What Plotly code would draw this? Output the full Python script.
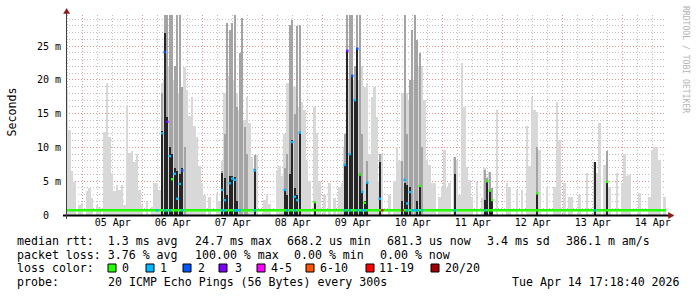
import plotly.graph_objects as go
import pandas as pd

START = pd.Timestamp("2026-04-04 17:18:40")
END = pd.Timestamp("2026-04-14 17:18:40")
STEP_MS = 3600 * 1000

# ---- data (hour offsets from START, values in ms) ----
light_hour = [0, 1, 2, 3, 5, 6, 8, 9, 10, 12, 13, 15, 16, 17, 18, 19, 20, 21, 22, 23, 24, 25, 26, 27, 28, 29, 30, 32, 34, 35, 36, 37,
              38, 39, 40, 41, 42, 43, 44, 45, 46, 47, 48, 49, 50, 51, 52, 53, 54, 55, 57, 60, 61,
              62, 63, 64, 65, 66, 67, 68, 69, 70, 71, 72, 73, 74, 75, 76, 79, 80, 81, 84, 85, 86,
              87, 88, 89, 90, 91, 92, 93, 94, 95, 96, 97, 99, 100, 101, 103, 105, 107, 109, 110,
              111, 112, 113, 114, 115, 116, 117, 118, 119, 120, 121, 122, 123, 124, 125, 126, 129, 131, 132, 133,
              134, 135, 136, 137, 138, 139, 140, 141, 142, 143, 144, 145, 146, 147, 149, 150, 151, 152, 153, 155, 156, 157, 158, 159, 160, 161,
              162, 164, 166, 167, 168, 169, 170, 172, 176, 177, 180, 182, 184, 185, 186, 187, 188, 189, 192, 195, 196, 197, 199,
              201, 202, 205, 208, 211, 212, 213, 215, 216, 217, 220, 222, 223, 224, 225, 229, 233, 234, 235, 236, 237, 239]
light_ms = [18.7, 12.6, 6.5, 4.9, 1.5, 1.8, 3.5, 4.0, 2.5, 1.5, 1.2, 12.3, 19.5, 11.6, 6.2, 3.5, 4.4, 3.7, 4.4, 1.5, 16.3, 9.2, 9.4, 7.9, 9.0, 3.7, 1.5, 2.0, 1.2, 4.8, 4.7, 3.7,
            19.5, 20, 21, 22, 18, 20, 19, 18, 19, 21.9, 18.5, 14.6, 17.5, 13.1, 11.6, 7.2, 4.7, 3.0, 2.7, 3.2, 2.0,
            8, 18, 20, 20.5, 20.5, 20, 18, 15.5, 20.5, 14, 17.5, 13.6, 8.6, 7, 8.9, 2.2, 3.0, 1.7, 6.7, 7.2, 5.7,
            12, 19.5, 19.5, 19.7, 19, 20.7, 16, 16.7, 15.5, 8, 5, 16, 12.1, 5, 3, 4.7, 2.5, 4.2, 4.7,
            10, 18, 20, 21, 20, 19, 20, 22, 19, 19.5, 9.1, 17.5, 19, 14.5, 5, 9.1, 3, 5, 10, 8,
            18, 18, 18, 17, 20, 20, 20, 22, 22, 17, 8.1, 7.4, 4.7, 4.7, 2.7, 4.2, 9.6, 4, 4.7, 8.6, 8.1, 3, 22.5, 16, 7.1, 5.2,
            2.7, 4.9, 2.5, 7, 5.5, 6.4, 4, 15.5, 4.7, 4.2, 3.7, 3.7, 13.1, 7.2, 17.5, 15.5, 15.2, 9.6, 4.2, 4.2, 16.7, 11.1, 4.7,
            2.7, 2.7, 3.0, 6.2, 7.9, 6.2, 13.6, 7.4, 9.4, 4.2, 6.2, 4.7, 9.1, 5.7, 5.9, 3.2, 2.7, 9.6, 10.1, 10.1, 8.1, 2.7]

mid_hour = [38, 39, 40, 41, 42, 43, 44, 45, 46, 47,
            62, 63, 64, 65, 66, 67, 68, 69, 70, 71, 72, 75,
            87, 88, 89, 90, 91, 92, 93,
            111, 112, 113, 114, 115, 116, 117, 118, 120, 125,
            134, 135, 136, 137, 138, 139, 140, 141, 142,
            155, 167, 168, 169, 170, 188, 211, 216]
mid_ms = [18, 29.6, 29.6, 29.6, 29.6, 22, 29.6, 29.6, 19, 10,
          6.5, 12, 28.4, 27.4, 28.4, 29.6, 16, 24, 29.1, 13, 9, 8.9,
          7, 9, 28.1, 28.9, 15, 28, 28.1,
          12, 29.6, 29.6, 29.6, 22, 29.6, 29.6, 12, 8, 9.1,
          8, 29.6, 12, 20, 27.4, 29.6, 25.9, 24, 10,
          8.6, 6.7, 5.5, 6.4, 4, 10.1, 7.9, 9.4]

dark_hour = [38, 39, 40, 41, 42, 43, 44, 45, 46,
             62, 63, 64, 65, 66, 67, 68, 75,
             87, 88, 89, 90, 91, 92, 93, 99,
             111, 112, 113, 114, 115, 116, 117, 118, 119, 120, 125,
             134, 135, 136, 137, 140, 141, 155,
             167, 168, 169, 170, 188, 211, 216]
dark_ms = [12.5, 27, 14.5, 10, 9, 7, 6.5, 6, 7,
           6.2, 5.5, 3, 5.7, 5.7, 5.6, 2, 6.8,
           3.7, 3, 6, 11.1, 4, 3, 12.3, 1.9,
           7.4, 24.4, 9.1, 20.7, 17, 24.7, 6.2, 3.4, 2, 4.9, 7.9,
           2, 4.7, 4.5, 4.2, 2, 4.4, 6,
           2.2, 5.2, 3.7, 2.2, 3.3, 7.9, 4.9]

median_hour = [38, 39, 40, 41, 42, 43, 44, 45, 46,
               62, 63, 65, 66, 67, 75,
               87, 90, 91, 92, 93, 99,
               111, 112, 113, 114, 115, 116, 117, 118, 119, 120, 125,
               135, 136, 137, 141,
               168, 169, 170, 188, 216]
median_ms = [12.1, 24.1, 13.8, 8.7, 5.3, 6.1, 2.4, 4.6, 6.6,
             3.7, 2.2, 4.7, 5.4, 5.2, 6.6,
             3.7, 10.8, 2.7, 2.2, 12.2, 1.9,
             7.4, 24.3, 9.0, 20.6, 17, 24.6, 6.0, 3.4, 1.8, 4.8, 2.4,
             5.2, 1.7, 3.4, 4.3,
             5.0, 3.6, 2.2, 3.2, 4.9]
median_loss = [1, 2, 3, 1, 0, 1, 1, 1, 2,
               1, 1, 1, 1, 1, 1,
               1, 1, 1, 1, 1, 0,
               1, 3, 1, 2, 1, 2, 0, 1, 0, 1, 1,
               1, 1, 1, 0,
               0, 0, 0, 0, 0]

baseline_ms = 0.7
base_loss_hour = [36, 39, 41, 46, 62, 63, 67, 68, 69, 75, 88, 91, 111, 113, 116, 118, 119, 126, 134,
                  136, 138, 139, 140, 142, 155, 167, 211]
base_loss = [1, 1, 1, 1, 1, 1, 1, 1, 1, 1, 1, 1, 1, 1, 1, 1, 1, 12, 20,
             1, 1, 1, 1, 1, 1, 1, 1]

loss_labels = ["0", "1", "2", "3", "4-5", "6-10", "11-19", "20/20"]
loss_upper = [0, 1, 2, 3, 5, 10, 19, 20]
loss_colors = ["#26ff00", "#00b8ff", "#0059ff", "#7e00ff", "#ff00ff", "#ff5500", "#ff0000", "#a10000"]

y_tick_vals = [0, 5, 10, 15, 20, 25]
y_tick_text = ["0\u00a0\u00a0", "5 m", "10 m", "15 m", "20 m", "25 m"]

median_items = ["median rtt:  1.3 ms avg", "24.7 ms max", "668.2 us min", "681.3 us now", "3.4 ms sd", "386.1 m am/s"]
loss_items = ["packet loss: 3.76 % avg", "100.00 % max", "0.00 % min", "0.00 % now"]
probe_text = "20 ICMP Echo Pings (56 Bytes) every 300s"
stamp_text = "Tue Apr 14 17:18:40 2026"

# ---- geometry helpers (plot area in pixels) ----
PL, PW, PB, PH = 66, 600, 215, 200


def px(x):
    return (x - PL) / PW


def py(y):
    return (PB - y) / PH


def t(h, frac=0.5):
    return START + pd.Timedelta(hours=h + frac)


def loss_class(n):
    for i, u in enumerate(loss_upper):
        if n <= u:
            return i
    return len(loss_upper) - 1


MONO = "DejaVu Sans Mono"
fig = go.Figure()

fig.add_trace(go.Bar(x=[t(h) for h in light_hour], y=light_ms, width=STEP_MS * 0.7,
                     marker=dict(color="#d8d8d8", line_width=0), hoverinfo="skip"))
fig.add_trace(go.Bar(x=[t(h) for h in mid_hour], y=mid_ms, width=STEP_MS * 0.32,
                     marker=dict(color="#a4a4a4", line_width=0), hoverinfo="skip"))
fig.add_trace(go.Bar(x=[t(h) for h in dark_hour], y=dark_ms, width=STEP_MS * 0.8,
                     marker=dict(color="#262626", line_width=0), hoverinfo="skip"))

# baseline median (loss 0)
fig.add_trace(go.Scatter(x=[START, END], y=[baseline_ms, baseline_ms], mode="lines",
                         line=dict(color=loss_colors[0], width=2.6), hoverinfo="skip"))

# coloured segments (baseline with loss, and elevated medians)
segs = {}
for h, n in zip(base_loss_hour, base_loss):
    segs.setdefault(loss_class(n), []).append((h, baseline_ms))
for h, v, n in zip(median_hour, median_ms, median_loss):
    segs.setdefault(loss_class(n), []).append((h, v))
for c, items in segs.items():
    xs, ys = [], []
    for h, v in items:
        xs += [t(h, 0.0), t(h, 1.0), None]
        ys += [v, v, None]
    fig.add_trace(go.Scatter(x=xs, y=ys, mode="lines", connectgaps=False,
                             line=dict(color=loss_colors[c], width=2.4), hoverinfo="skip"))

RED_GRID = "#e89090"
GREY_GRID = "#c0c0c0"
DOTS = "1px,2px"

fig.update_layout(
    width=697, height=297,
    margin=dict(l=PL, r=697 - PL - PW, t=PB - PH, b=297 - PB, autoexpand=False),
    paper_bgcolor="white", plot_bgcolor="white",
    barmode="overlay", bargap=0, showlegend=False, hovermode=False,
    font=dict(family=MONO, size=10, color="#000000"),
)
fig.update_xaxes(
    type="date", range=[START, END], tick0="2026-04-05", dtick=86400000,
    tickformat="%d %b", ticklabelmode="period", ticks="",
    showgrid=True, gridcolor=RED_GRID, griddash=DOTS, gridwidth=1,
    minor=dict(dtick=21600000, tick0="2026-04-05", showgrid=True,
               gridcolor=GREY_GRID, griddash=DOTS, gridwidth=1),
    showline=False, zeroline=False, fixedrange=True,
    tickfont=dict(family=MONO, size=10, color="#000000"),
)
fig.update_yaxes(
    range=[0, 29.6], tickvals=y_tick_vals, ticktext=y_tick_text, ticks="",
    showgrid=True, gridcolor=RED_GRID, griddash=DOTS, gridwidth=1,
    minor=dict(dtick=1, tick0=0, showgrid=True, gridcolor=GREY_GRID,
               griddash=DOTS, gridwidth=1),
    showline=False, zeroline=False, fixedrange=True, ticklabelstandoff=4,
    tickfont=dict(family=MONO, size=10, color="#000000"),
)

shapes = []
# axes lines
shapes.append(dict(type="line", xref="paper", yref="paper", x0=px(63), x1=px(669),
                   y0=py(215.5), y1=py(215.5), line=dict(color="#000000", width=2)))
shapes.append(dict(type="line", xref="paper", yref="paper", x0=px(66.5), x1=px(66.5),
                   y0=py(219), y1=py(12), line=dict(color="#404040", width=1)))
# arrows
ARROW = "#8b1a1a"
shapes.append(dict(type="path", xref="paper", yref="paper",
                   path=f"M {px(63.6)},{py(13.5)} L {px(69.6)},{py(13.5)} L {px(66.6)},{py(8.5)} Z",
                   fillcolor=ARROW, line=dict(color=ARROW, width=0.5)))
shapes.append(dict(type="path", xref="paper", yref="paper",
                   path=f"M {px(668.5)},{py(212.5)} L {px(668.5)},{py(218.5)} L {px(674)},{py(215.5)} Z",
                   fillcolor=ARROW, line=dict(color=ARROW, width=0.5)))

annotations = []


def note(text, x, y, size=11.6, color="#000000", xanchor="left", angle=0):
    annotations.append(dict(text=text.replace(" ", "\u00a0"), x=px(x), y=py(y), xref="paper", yref="paper",
                            xanchor=xanchor, yanchor="middle", showarrow=False, borderpad=0,
                            textangle=angle, font=dict(family=MONO, size=size, color=color)))


note("Seconds", 11, 112.5, angle=-90, xanchor="center")
note("RRDTOOL / TOBI OETIKER", 686, 59, size=8.1, color="#b4b4b4", angle=90, xanchor="center")

for txt, x in zip(median_items, [16, 194, 286, 386, 486, 565]):
    note(txt, x, 241)
for txt, x in zip(loss_items, [16, 194, 293, 379]):
    note(txt, x, 255)
note("loss color:", 16, 268)
sq_left = [108, 146, 183, 219, 257, 306, 366, 431]
lbl_left = [121, 159, 197, 234, 270, 319, 378, 444]
for i, lab in enumerate(loss_labels):
    shapes.append(dict(type="rect", xref="paper", yref="paper",
                       x0=px(sq_left[i]), x1=px(sq_left[i] + 8), y0=py(272), y1=py(264),
                       fillcolor=loss_colors[i], line=dict(color="#000000", width=1)))
    note(lab, lbl_left[i], 268)
note("probe:", 16, 282)
note(probe_text, 107, 282)
note(stamp_text, 681, 282, xanchor="right")

fig.update_layout(shapes=shapes, annotations=annotations)
fig.write_html("out.html")
